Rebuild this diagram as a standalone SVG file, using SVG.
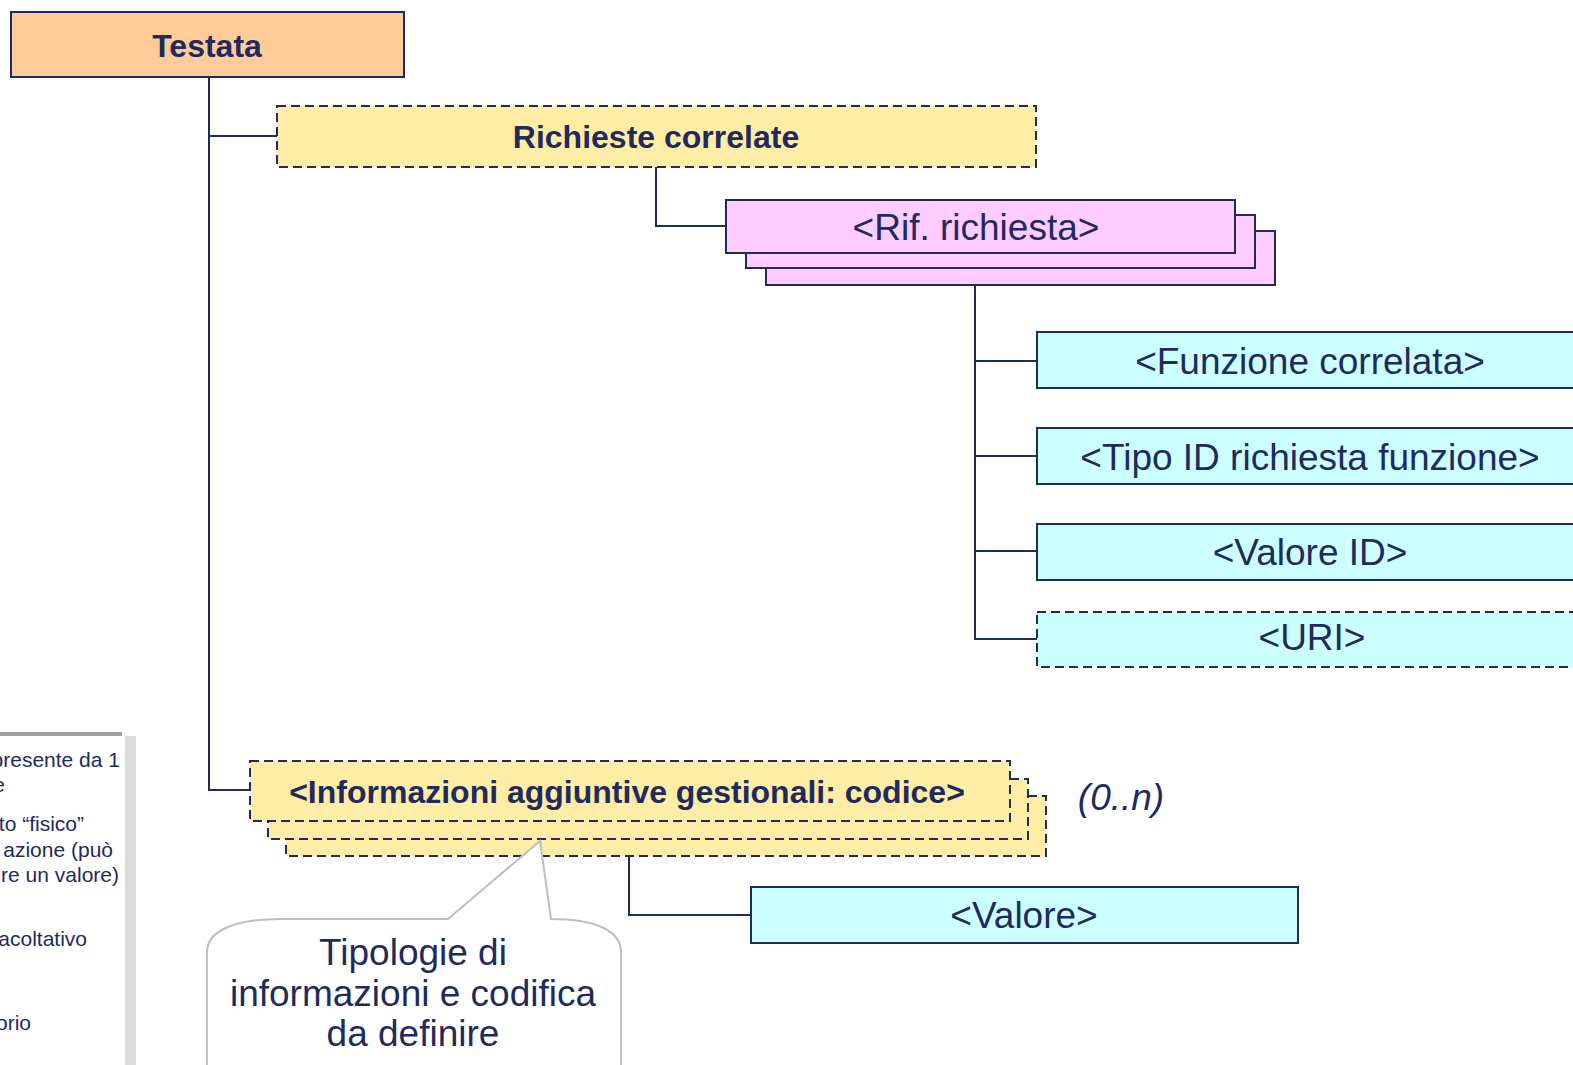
<svg xmlns="http://www.w3.org/2000/svg" width="1573" height="1065" viewBox="0 0 1573 1065">
<style>
.box{stroke:#1F2A5E;stroke-width:2}
.dash{stroke-dasharray:9 5}
.orange{fill:#FFCC99}
.yellow{fill:#FFEDA6}
.pink{fill:#FFCCFF}
.cyan{fill:#CCFFFF}
.t{font-family:"Liberation Sans",Arial,sans-serif;fill:#1F2A5E;text-anchor:middle}
.b{font-weight:bold;font-size:32px}
.r{font-size:37px}
.leg{font-family:"Liberation Sans",Arial,sans-serif;fill:#1F2A5E;font-size:21px;text-anchor:end}
.conn{fill:none;stroke:#1F2A5E;stroke-width:2}
</style>
<rect width="1573" height="1065" fill="#FFFFFF"/>

<g id="legend">
<rect x="0" y="733" width="124" height="340" fill="#FFFFFF"/>
<rect x="0" y="732" width="122" height="4" fill="#A0A0A0"/>
<rect x="125" y="736" width="11" height="335" fill="#DCDCDC"/>
<text class="leg" x="120" y="767">presente da 1</text>
<text class="leg" x="5" y="792">e</text>
<text class="leg" x="84" y="831">to “fisico”</text>
<text class="leg" x="113" y="857">azione (può</text>
<text class="leg" x="119" y="882">re un valore)</text>
<text class="leg" x="87" y="946">acoltativo</text>
<text class="leg" x="31" y="1030">orio</text>
</g>

<g id="connectors">
<polyline class="conn" points="209,73 209,790 250,790"/>
<polyline class="conn" points="209,136 277,136"/>
<polyline class="conn" points="656,167 656,226 726,226"/>
<polyline class="conn" points="975,257 975,639 1037,639"/>
<line class="conn" x1="975" y1="361" x2="1037" y2="361"/>
<line class="conn" x1="975" y1="456" x2="1037" y2="456"/>
<line class="conn" x1="975" y1="551" x2="1037" y2="551"/>
<polyline class="conn" points="629,821 629,915 751,915"/>
</g>

<g id="testata">
<rect class="box orange" x="11" y="12" width="393" height="65"/>
<text class="t b" x="207" y="57">Testata</text>
</g>

<g id="richieste-correlate">
<rect class="box dash yellow" x="277" y="106" width="759" height="61"/>
<text class="t b" x="656" y="148">Richieste correlate</text>
</g>

<g id="rif-richiesta">
<rect class="box pink" x="766" y="231" width="509" height="54"/>
<rect class="box pink" x="746" y="215" width="509" height="53"/>
<rect class="box pink" x="726" y="200" width="509" height="53"/>
<text class="t r" x="976" y="240">&lt;Rif. richiesta&gt;</text>
</g>

<g id="funzione-correlata">
<rect class="box cyan" x="1037" y="332" width="546" height="56"/>
<text class="t r" x="1310" y="374">&lt;Funzione correlata&gt;</text>
</g>

<g id="tipo-id">
<rect class="box cyan" x="1037" y="428" width="546" height="56"/>
<text class="t r" x="1310" y="470">&lt;Tipo ID richiesta funzione&gt;</text>
</g>

<g id="valore-id">
<rect class="box cyan" x="1037" y="524" width="546" height="56"/>
<text class="t r" x="1310" y="565">&lt;Valore ID&gt;</text>
</g>

<g id="uri">
<rect class="box dash cyan" x="1037" y="612" width="546" height="55"/>
<text class="t r" x="1312" y="650">&lt;URI&gt;</text>
</g>

<g id="informazioni">
<rect class="box dash yellow" x="286" y="796" width="760" height="60"/>
<rect class="box dash yellow" x="268" y="779" width="760" height="60"/>
<rect class="box dash yellow" x="250" y="761" width="760" height="60"/>
<text class="t b" x="627" y="803">&lt;Informazioni aggiuntive gestionali: codice&gt;</text>
<text class="t" x="1121" y="810" style="font-style:italic;font-size:37px">(0..n)</text>
</g>

<g id="valore">
<rect class="box cyan" x="751" y="887" width="547" height="56"/>
<text class="t r" x="1024" y="928">&lt;Valore&gt;</text>
</g>

<g id="callout">
<path d="M448,919 L540,841 L551,919 C598,919 621,932 621,952 L621,1080 L207,1080 L207,952 C207,932 232,919 282,919 Z" fill="#FFFFFF" stroke="#BFBFBF" stroke-width="2"/>
<text class="t r" x="413" y="965">Tipologie di</text>
<text class="t r" x="413" y="1006">informazioni e codifica</text>
<text class="t r" x="413" y="1046">da definire</text>
</g>
</svg>
